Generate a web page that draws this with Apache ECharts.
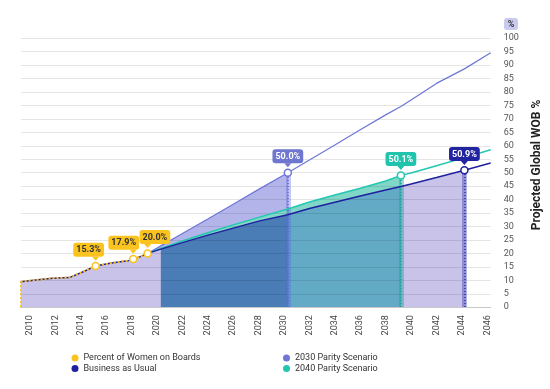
<!DOCTYPE html>
<html><head><meta charset="utf-8">
<script src="https://cdn.jsdelivr.net/npm/echarts@6/dist/echarts.min.js"></script>
<style>html,body{margin:0;padding:0;background:#fff}#c{width:550px;height:389px}</style>
</head><body><div id="c"></div>
<script>
// ---- data ----
const xTickLabels = [2010,2012,2014,2016,2018,2020,2022,2024,2026,2028,2030,2032,2034,2036,2038,2040,2042,2044,2046];
const yTicks = [0,5,10,15,20,25,30,35,40,45,50,55,60,65,70,75,80,85,90,95,100];
const wobYears  = [2009.27, 2010.8, 2011.8, 2013.1, 2014.1, 2015.17, 2016.3, 2017.1, 2017.75, 2018.13, 2018.7, 2019.26];
const wobValues = [9.5, 10.3, 10.8, 11.0, 13.0, 15.3, 16.3, 16.9, 17.3, 17.9, 18.8, 20.0];
const wobMarked = [5, 9, 11];
const projYears  = [2019.26, 2020.3, 2022, 2024, 2026, 2028, 2030.3, 2032, 2034, 2036, 2038, 2039.2, 2040, 2042, 2044.2, 2046.27];
const parity2030 = [20.0, 22.8, 27.4, 32.8, 38.3, 43.8, 50.0, 54.7, 60.3, 66.0, 71.5, 74.6, 77.0, 83.2, 88.6, 94.6];
const parity2040 = [20.0, 21.8, 24.6, 27.7, 30.6, 33.4, 36.5, 39.1, 41.7, 44.2, 46.9, 49.0, 49.9, 52.6, 55.6, 58.5];
const bau        = [20.0, 21.6, 24.0, 26.8, 29.4, 32.0, 34.4, 36.7, 39.0, 41.3, 43.6, 44.9, 45.8, 48.2, 50.9, 53.6];
const parityIdx    = [6, 11, 14];
const parityLabels = ['50.0%', '50.1%', '50.9%'];
const seriesNames = ['Percent of Women on Boards', 'Business as Usual', '2030 Parity Scenario', '2040 Parity Scenario'];

// ---- style ----
const FONT = 'Roboto';
const C = { wob:'#fac31e', bau:'#1f209e', p30:'#6e76d6', p40:'#22c7b1',
            lav:'#c9c3e9', peri:'#b3b5ea', lteal:'#80d6c7', dark:'#4a7cb6', tblue:'#63aac7' };
const xMin = 2009.27, xMax = 2046.27;
const wobLabelShift = [-7, -9.5, 7.3];

function pairs(xs, ys, from, to){ const o=[]; for(let i=from;i<=to;i++) o.push([xs[i], ys[i]]); return o; }
function fill(name, data, color, z){
  return {name, type:'line', data, symbol:'none', showSymbol:false, lineStyle:{width:0},
          areaStyle:{color, opacity:1}, z, silent:true, animation:false};
}
const tail = 'path://M0,0 L10,0 L5,6 Z';
function markers(x, v, text, border, bg, fg, dx){
  return [
    {coord:[x,v], symbol:'circle', symbolSize:7, itemStyle:{color:'#fff', borderColor:border, borderWidth:1.5}, label:{show:false}},
    {coord:[x,v], symbol:tail, symbolSize:[7,4], symbolOffset:[0,-7.4], itemStyle:{color:bg},
     label:{show:true, position:'top', distance:0, offset:[dx||0,0], formatter:text, backgroundColor:bg, color:fg,
            fontSize:9, fontWeight:'bold', fontFamily:FONT, padding:[3,3,2,3], borderRadius:3}}
  ];
}
function band(x, v, bandColor, dotColor){
  return [
    [{coord:[x,0], lineStyle:{color:bandColor, width:5, type:'solid'}}, {coord:[x,v]}],
    [{coord:[x,0], lineStyle:{color:dotColor, width:1.5, type:[1.5,1.5]}}, {coord:[x,v]}]
  ];
}
const mlBase = {symbol:['none','none'], silent:true, animation:false, label:{show:false}, z:5};

const lavData = pairs(wobYears, wobValues, 0, wobYears.length-1).concat(pairs(projYears, bau, 1, parityIdx[2]));
const wobData = pairs(wobYears, wobValues, 0, wobYears.length-1);

const wobMarks = [];
wobMarked.forEach((i, k) => wobMarks.push(...markers(wobYears[i], wobValues[i], wobValues[i].toFixed(1)+'%', C.wob, C.wob, '#333', wobLabelShift[k])));

const series = [
  fill('f30', pairs(projYears, parity2030, 0, parityIdx[0]), C.peri, 1),
  fill('f40', pairs(projYears, parity2040, 0, parityIdx[1]), C.lteal, 2),
  fill('flav', lavData, C.lav, 3),
  fill('fdark', pairs(projYears, bau, 1, parityIdx[0]), C.dark, 4),
  fill('fteal', pairs(projYears, bau, parityIdx[0], parityIdx[1]), C.tblue, 4),
  {name:'wobBase', type:'line', data:wobData, symbol:'none', lineStyle:{color:C.bau, width:1.5}, z:6, silent:true, animation:false},
  {name:seriesNames[0], type:'line', data:wobData, symbol:'none', itemStyle:{color:C.wob},
   lineStyle:{color:C.wob, width:2, type:[2,2]}, z:7, animation:false,
   markLine:Object.assign({}, mlBase, {
     data:[[{coord:[wobYears[0],0], lineStyle:{color:C.wob, width:2, type:[2,2]}}, {coord:[wobYears[0], wobValues[0]]}]]}),
   markPoint:{animation:false, z:30, data:wobMarks}},
  {name:seriesNames[2], type:'line', data:pairs(projYears, parity2030, 0, projYears.length-1), symbol:'none',
   itemStyle:{color:C.p30}, lineStyle:{color:C.p30, width:1.2}, z:8, animation:false,
   markLine:Object.assign({}, mlBase, {data:band(projYears[parityIdx[0]], parity2030[parityIdx[0]], 'rgba(90,100,215,0.35)', '#5a64d6')}),
   markPoint:{animation:false, z:30, data:markers(projYears[parityIdx[0]], parity2030[parityIdx[0]], parityLabels[0], C.p30, '#6e76cf', '#fff')}},
  {name:seriesNames[3], type:'line', data:pairs(projYears, parity2040, 0, projYears.length-1), symbol:'none',
   itemStyle:{color:C.p40}, lineStyle:{color:C.p40, width:1.5}, z:9, animation:false,
   markLine:Object.assign({}, mlBase, {data:band(projYears[parityIdx[1]], parity2040[parityIdx[1]], 'rgba(20,160,150,0.4)', '#12a898')}),
   markPoint:{animation:false, z:30, data:markers(projYears[parityIdx[1]], parity2040[parityIdx[1]], parityLabels[1], C.p40, '#20c4ad', '#fff')}},
  {name:seriesNames[1], type:'line', data:pairs(projYears, bau, 0, projYears.length-1), symbol:'none',
   itemStyle:{color:C.bau}, lineStyle:{color:C.bau, width:1.5}, z:10, animation:false,
   markLine:Object.assign({}, mlBase, {data:band(projYears[parityIdx[2]], bau[parityIdx[2]], 'rgba(40,40,170,0.35)', '#2528a8')}),
   markPoint:{animation:false, z:30, data:markers(projYears[parityIdx[2]], bau[parityIdx[2]], parityLabels[2], C.bau, '#2024a0', '#fff')}}
];

const legendBase = {orient:'vertical', icon:'circle', itemWidth:7, itemHeight:7, itemGap:1.5,
  textStyle:{fontSize:9, color:'#333', fontFamily:FONT}, selectedMode:false};

const chart = echarts.init(document.getElementById('c'), null, {renderer:'canvas'});
chart.setOption({
  animation:false,
  backgroundColor:'#fff',
  grid:{left:20.7, right:59.3, top:38.2, bottom:81.8, containLabel:false},
  xAxis:{type:'value', min:xMin, max:xMax, z:5,
    axisLine:{show:true, lineStyle:{color:'#c8c8c8', width:1}}, axisTick:{show:false}, splitLine:{show:false},
    axisLabel:{customValues:xTickLabels, formatter:v => String(v), rotate:90, fontSize:9, color:'#444', margin:8, fontFamily:FONT}},
  yAxis:{type:'value', position:'right', min:yTicks[0], max:yTicks[yTicks.length-1], interval:yTicks[1]-yTicks[0], z:5,
    axisLine:{show:false}, axisTick:{show:false},
    splitLine:{lineStyle:{color:'rgba(0,0,0,0.1)', width:1}},
    axisLabel:{fontSize:9, color:'#555', margin:13, fontFamily:FONT}},
  legend:[
    Object.assign({}, legendBase, {left:66.5, top:348.5, data:[seriesNames[0], seriesNames[1]]}),
    Object.assign({}, legendBase, {left:278, top:348.5, data:[seriesNames[2], seriesNames[3]]})
  ],
  graphic:[
    {type:'rect', shape:{x:504, y:18, width:14, height:12, r:3}, style:{fill:'#c8cbee'}, z:20},
    {type:'text', x:511, y:24.5, style:{text:'%', font:'bold 9px Roboto', fill:'#333', align:'center', verticalAlign:'middle'}, z:21},
    {type:'text', x:537, y:165, rotation:Math.PI/2,
     style:{text:'Projected Global WOB %', font:'bold 12px Roboto', fill:'#222', align:'center', verticalAlign:'middle'}, z:21}
  ],
  series
});
</script></body></html>
